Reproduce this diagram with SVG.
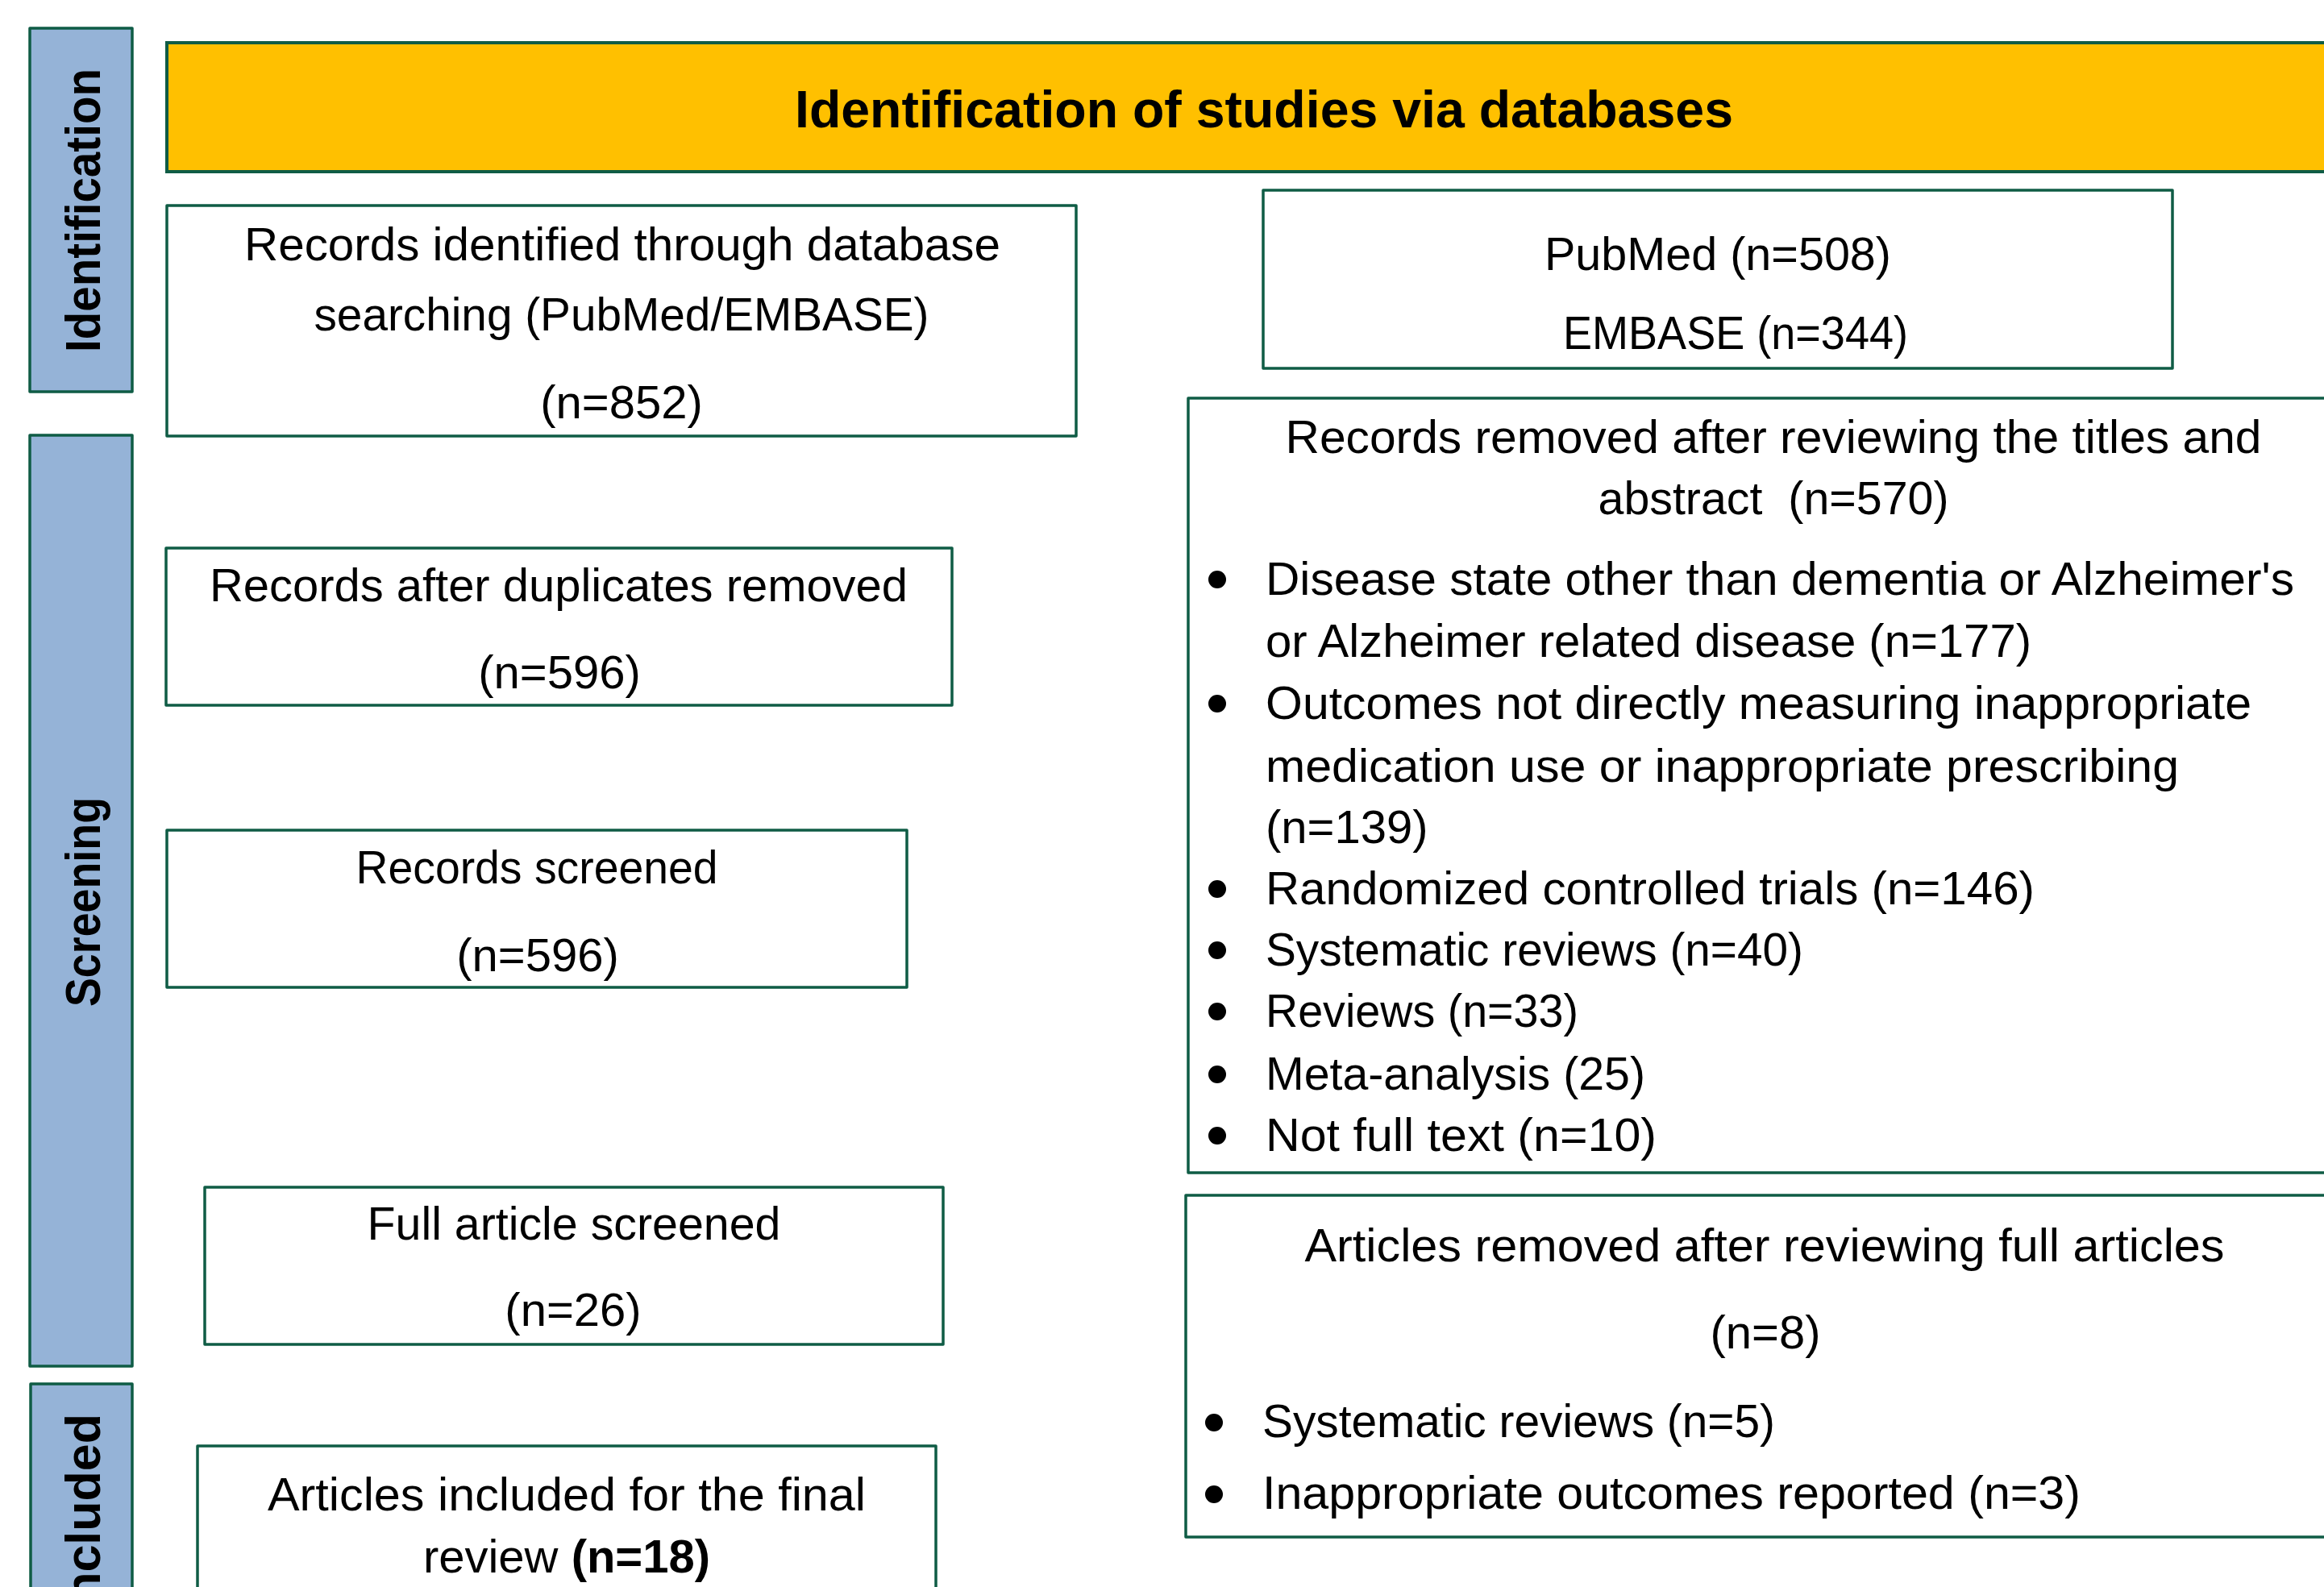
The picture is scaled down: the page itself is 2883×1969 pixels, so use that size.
<svg xmlns="http://www.w3.org/2000/svg" width="2883" height="1969" viewBox="0 0 2883 1969">
  <style>
    .box { fill: #ffffff; stroke: #0f5c45; stroke-width: 3.5; stroke-linejoin: round; }
    .bar { fill: #95b3d7; stroke: #0f5c45; stroke-width: 3.5; stroke-linejoin: round; }
    .head { fill: #ffc000; stroke: #0f5c45; stroke-width: 4; }
    .t { font-family: "Liberation Sans", Arial, sans-serif; font-size: 58px; fill: #000000; }
    .c { text-anchor: middle; }
    .side { font-family: "Liberation Sans", Arial, sans-serif; font-size: 61px; font-weight: bold; fill: #000000; }
    .title { font-family: "Liberation Sans", Arial, sans-serif; font-size: 65px; font-weight: bold; fill: #000000; text-anchor: middle; }
    .bul { fill: #000000; }
  </style>
  <rect width="2883" height="1969" fill="#ffffff"/>

  <g id="stage-identification">
    <rect class="bar" x="37" y="35" width="127" height="451"/>
    <text class="side" transform="translate(124,261) rotate(-90)" text-anchor="middle" textLength="352" lengthAdjust="spacingAndGlyphs">Identification</text>
  </g>
  <g id="stage-screening">
    <rect class="bar" x="37" y="540" width="127" height="1155"/>
    <text class="side" transform="translate(124,1119) rotate(-90)" text-anchor="middle" textLength="260" lengthAdjust="spacingAndGlyphs">Screening</text>
  </g>
  <g id="stage-included">
    <rect class="bar" x="38" y="1717" width="126" height="320"/>
    <text class="side" transform="translate(124,1754) rotate(-90)" text-anchor="end">Included</text>
  </g>

  <g id="header">
    <rect class="head" x="207" y="53" width="2720" height="160"/>
    <text class="title" x="1568" y="158" textLength="1164" lengthAdjust="spacingAndGlyphs">Identification of studies via databases</text>
  </g>

  <g id="records-identified">
    <rect class="box" x="207" y="255" width="1128" height="286"/>
    <text class="t c" x="772" y="323" textLength="938" lengthAdjust="spacingAndGlyphs">Records identified through database</text>
    <text class="t c" x="771" y="410" textLength="763" lengthAdjust="spacingAndGlyphs">searching (PubMed/EMBASE)</text>
    <text class="t c" x="771" y="519">(n=852)</text>
  </g>

  <g id="databases">
    <rect class="box" x="1567" y="236" width="1128" height="221"/>
    <text class="t" x="1916" y="335" textLength="430" lengthAdjust="spacingAndGlyphs">PubMed (n=508)</text>
    <text class="t" x="1939" y="433" textLength="428" lengthAdjust="spacingAndGlyphs">EMBASE (n=344)</text>
  </g>

  <g id="records-removed-title-abstract">
    <rect class="box" x="1474" y="494" width="1460" height="961"/>
    <text class="t c" x="2200" y="562" textLength="1211" lengthAdjust="spacingAndGlyphs">Records removed after reviewing the titles and</text>
    <text class="t c" x="2200" y="638" xml:space="preserve" textLength="435" lengthAdjust="spacingAndGlyphs">abstract  (n=570)</text>
    <circle class="bul" cx="1510" cy="719" r="11"/>
    <text class="t" x="1570" y="738" textLength="1276" lengthAdjust="spacingAndGlyphs">Disease state other than dementia or Alzheimer's</text>
    <text class="t" x="1570" y="815" textLength="950" lengthAdjust="spacingAndGlyphs">or Alzheimer related disease (n=177)</text>
    <circle class="bul" cx="1510" cy="873" r="11"/>
    <text class="t" x="1570" y="892" textLength="1223" lengthAdjust="spacingAndGlyphs">Outcomes not directly measuring inappropriate</text>
    <text class="t" x="1570" y="970" textLength="1133" lengthAdjust="spacingAndGlyphs">medication use or inappropriate prescribing</text>
    <text class="t" x="1570" y="1046">(n=139)</text>
    <circle class="bul" cx="1510" cy="1103" r="11"/>
    <text class="t" x="1570" y="1122" textLength="954" lengthAdjust="spacingAndGlyphs">Randomized controlled trials (n=146)</text>
    <circle class="bul" cx="1510" cy="1179" r="11"/>
    <text class="t" x="1570" y="1198" textLength="667" lengthAdjust="spacingAndGlyphs">Systematic reviews (n=40)</text>
    <circle class="bul" cx="1510" cy="1255" r="11"/>
    <text class="t" x="1570" y="1274" textLength="388" lengthAdjust="spacingAndGlyphs">Reviews (n=33)</text>
    <circle class="bul" cx="1510" cy="1333" r="11"/>
    <text class="t" x="1570" y="1352" textLength="471" lengthAdjust="spacingAndGlyphs">Meta-analysis (25)</text>
    <circle class="bul" cx="1510" cy="1409" r="11"/>
    <text class="t" x="1570" y="1428" textLength="485" lengthAdjust="spacingAndGlyphs">Not full text (n=10)</text>
  </g>

  <g id="records-after-duplicates">
    <rect class="box" x="206" y="680" width="975" height="195"/>
    <text class="t c" x="693" y="746" textLength="866" lengthAdjust="spacingAndGlyphs">Records after duplicates removed</text>
    <text class="t c" x="694" y="854">(n=596)</text>
  </g>

  <g id="records-screened">
    <rect class="box" x="207" y="1030" width="918" height="195"/>
    <text class="t c" x="666" y="1096" textLength="449" lengthAdjust="spacingAndGlyphs">Records screened</text>
    <text class="t c" x="667" y="1205">(n=596)</text>
  </g>

  <g id="full-article-screened">
    <rect class="box" x="254" y="1473" width="916" height="195"/>
    <text class="t c" x="712" y="1538" textLength="513" lengthAdjust="spacingAndGlyphs">Full article screened</text>
    <text class="t c" x="711" y="1645">(n=26)</text>
  </g>

  <g id="articles-removed-full">
    <rect class="box" x="1471" y="1483" width="1460" height="424"/>
    <text class="t c" x="2189" y="1565" textLength="1141" lengthAdjust="spacingAndGlyphs">Articles removed after reviewing full articles</text>
    <text class="t c" x="2190" y="1673">(n=8)</text>
    <circle class="bul" cx="1506" cy="1765" r="11"/>
    <text class="t" x="1566" y="1783" textLength="636" lengthAdjust="spacingAndGlyphs">Systematic reviews (n=5)</text>
    <circle class="bul" cx="1506" cy="1854" r="11"/>
    <text class="t" x="1566" y="1872" textLength="1015" lengthAdjust="spacingAndGlyphs">Inappropriate outcomes reported (n=3)</text>
  </g>

  <g id="articles-included">
    <rect class="box" x="245" y="1794" width="916" height="240"/>
    <text class="t c" x="703" y="1874" textLength="742" lengthAdjust="spacingAndGlyphs">Articles included for the final</text>
    <text class="t c" x="703" y="1951">review <tspan font-weight="bold">(n=18)</tspan></text>
  </g>

  <g id="connectors"/>
</svg>
